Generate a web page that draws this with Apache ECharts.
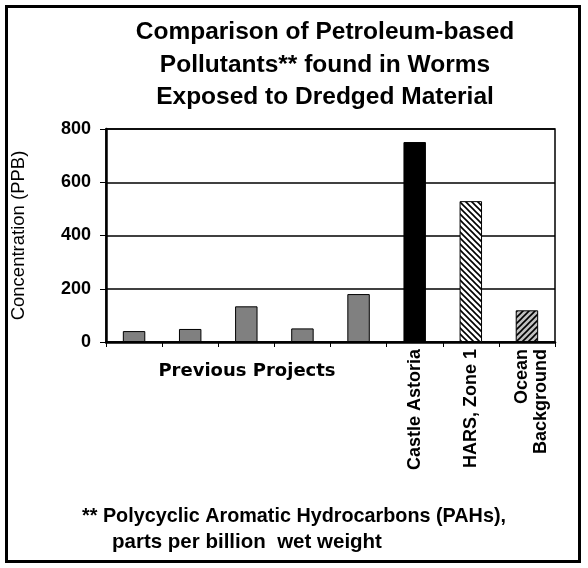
<!DOCTYPE html>
<html>
<head>
<meta charset="utf-8">
<script src="https://cdn.jsdelivr.net/npm/echarts@6/dist/echarts.min.js"></script>
<style>
  html, body { margin: 0; padding: 0; background: #fff; }
  #chart { width: 588px; height: 568px; }
</style>
</head>
<body>
<div id="chart"></div>
<script>
// categories and values
const categories = ['', '', '', '', '', 'Castle Astoria', 'HARS, Zone 1', 'Ocean\nBackground'];
const values = [41, 49, 134, 51, 180, 751, 529, 119];
const yTicks = [0, 200, 400, 600, 800];
const titleLines = ['Comparison of Petroleum-based', 'Pollutants** found in Worms', 'Exposed to Dredged Material'];
const groupLabel = 'Previous Projects';
const footLines = ['** Polycyclic Aromatic Hydrocarbons (PAHs),', 'parts per billion  wet weight'];

// hatch fills
function hatch(bg, back) {
  const c = document.createElement('canvas');
  c.width = 6; c.height = 6;
  const g = c.getContext('2d');
  g.fillStyle = bg;
  g.fillRect(0, 0, 6, 6);
  g.strokeStyle = '#000';
  g.lineWidth = 1.6;
  g.beginPath();
  for (let k = -6; k <= 6; k += 6) {
    if (back) { g.moveTo(k - 1, -1); g.lineTo(k + 7, 7); }
    else { g.moveTo(k - 1, 7); g.lineTo(k + 7, -1); }
  }
  g.stroke();
  return { image: c, repeat: 'repeat' };
}

const fills = ['#808080', '#808080', '#808080', '#808080', '#808080', '#000000',
  hatch('#ffffff', true), hatch('#c0c0c0', false)];

const chart = echarts.init(document.getElementById('chart'));

const option = {
  backgroundColor: '#fff',
  animation: false,
  grid: {
    left: 106, right: 33, top: 129, bottom: 226,
    show: true, borderColor: '#000', borderWidth: 1.5,
    outerBoundsMode: 'none'
  },
  xAxis: {
    type: 'category',
    data: categories,
    axisLine: { lineStyle: { color: '#000', width: 2.5 } },
    axisTick: { show: true, length: 5, lineStyle: { color: '#000', width: 1 } },
    axisLabel: {
      interval: 0, rotate: 90, margin: 7,
      color: '#000', fontWeight: 'bold', fontSize: 18,
      fontFamily: 'Liberation Sans', lineHeight: 19,
      // two-line label sits a little right of its tick in the original
      formatter: v => v.includes('\n')
        ? '{s| }\n' + v.split('\n').map(t => '{a|' + t + '}').join('\n')
        : v,
      rich: {
        s: { lineHeight: 10, fontSize: 8 },
        a: { fontWeight: 'bold', fontSize: 18, fontFamily: 'Liberation Sans', lineHeight: 19, color: '#000' }
      }
    }
  },
  yAxis: {
    type: 'value',
    min: 0, max: 800, interval: 200,
    name: 'Concentration (PPB)',
    nameLocation: 'middle',
    nameGap: 78,
    nameTextStyle: { color: '#000', fontSize: 18.5, fontFamily: 'Liberation Sans' },
    axisLine: { show: true, lineStyle: { color: '#000', width: 2.5 } },
    axisTick: { show: true, length: 6, lineStyle: { color: '#000', width: 1 } },
    axisLabel: {
      margin: 15, color: '#000', fontWeight: 'bold', fontSize: 18,
      fontFamily: 'Liberation Sans',
      formatter: v => yTicks.includes(v) ? String(v) : ''
    },
    splitLine: { lineStyle: { color: '#000', width: 1.5 } }
  },
  series: [{
    type: 'bar',
    barWidth: '40%',
    data: values.map((v, i) => ({
      value: v,
      itemStyle: { color: fills[i], borderColor: '#000', borderWidth: 1 }
    }))
  }],
  graphic: [
    {
      type: 'rect', silent: true,
      shape: { x: 6.5, y: 6.5, width: 573, height: 555 },
      style: { fill: 'none', stroke: '#000', lineWidth: 3 }
    },
    {
      type: 'text', x: 325, y: 16,
      style: {
        text: titleLines.join('\n'), textAlign: 'center', textVerticalAlign: 'top',
        font: 'bold 24.5px "Liberation Sans"', lineHeight: 32.5, fill: '#000'
      }
    },
    {
      type: 'text', x: 247, y: 371,
      style: {
        text: groupLabel, textAlign: 'center', textVerticalAlign: 'middle',
        font: 'bold 18px "DejaVu Sans"', fill: '#000'
      }
    },
    {
      type: 'text', x: 82, y: 517,
      style: {
        text: footLines[0], textAlign: 'left', textVerticalAlign: 'middle',
        font: 'bold 19.8px "Liberation Sans"', fill: '#000'
      }
    },
    {
      type: 'text', x: 112, y: 542,
      style: {
        text: footLines[1], textAlign: 'left', textVerticalAlign: 'middle',
        font: 'bold 20.5px "Liberation Sans"', fill: '#000'
      }
    }
  ]
};

chart.setOption(option);
</script>
</body>
</html>
